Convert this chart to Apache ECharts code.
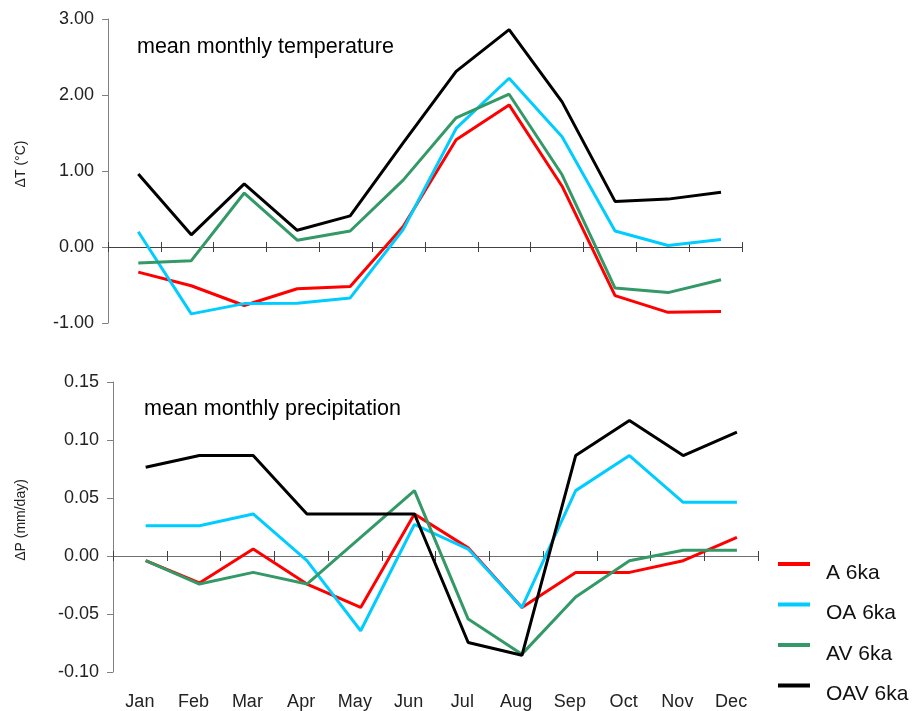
<!DOCTYPE html>
<html>
<head>
<meta charset="utf-8">
<script src="https://cdn.jsdelivr.net/npm/echarts@6/dist/echarts.min.js"></script>
<style>
html,body{margin:0;padding:0;background:#fff;}
#chart{width:913px;height:711px;}
</style>
</head>
<body>
<div id="chart"></div>
<script>
const months = ['Jan','Feb','Mar','Apr','May','Jun','Jul','Aug','Sep','Oct','Nov','Dec'];
const seriesNames = ['A 6ka','OA 6ka','AV 6ka','OAV 6ka'];

// mean monthly temperature change (°C)
const tempA   = [-0.33,-0.51,-0.77,-0.55,-0.52, 0.27, 1.41, 1.87, 0.80,-0.64,-0.86,-0.85];
const tempOA  = [ 0.20,-0.88,-0.745,-0.74,-0.67, 0.23, 1.56, 2.22, 1.45, 0.21, 0.02, 0.10];
const tempAV  = [-0.21,-0.18, 0.71, 0.09, 0.21, 0.88, 1.70, 2.01, 0.95,-0.54,-0.60,-0.43];
const tempOAV = [ 0.96, 0.16, 0.83, 0.22, 0.41, 1.37, 2.31, 2.86, 1.91, 0.60, 0.63, 0.72];

// mean monthly precipitation change (mm/day)
const precA   = [-0.003,-0.022, 0.007,-0.023,-0.043, 0.037, 0.008,-0.043,-0.013,-0.013,-0.003, 0.017];
const precOA  = [ 0.027, 0.027, 0.037,-0.003,-0.063, 0.028, 0.007,-0.043, 0.057, 0.087, 0.047, 0.047];
const precAV  = [-0.003,-0.023,-0.013,-0.023, 0.017, 0.057,-0.053,-0.083,-0.034,-0.003, 0.006, 0.006];
const precOAV = [ 0.077, 0.087, 0.087, 0.037, 0.037, 0.037,-0.073,-0.084, 0.087, 0.117, 0.087, 0.107];

const tempTicks = { min: -1, max: 3, interval: 1 };
const precTicks = { min: -0.1, max: 0.15, interval: 0.05 };

const colors = ['#FF0000', '#00CCFF', '#339966', '#000000'];
const FONT = 'Liberation Sans, Arial, sans-serif';

const chart = echarts.init(document.getElementById('chart'), null, {renderer: 'canvas'});

function line(name, data, xi, yi, ci) {
  return {
    name: name, type: 'line', data: data,
    xAxisIndex: xi, yAxisIndex: yi,
    symbol: 'none', smooth: false,
    lineStyle: { width: 3, color: colors[ci] },
    itemStyle: { color: colors[ci] },
    emphasis: { disabled: true },
    z: 2 + ci
  };
}

function hiddenX(gi) {
  return { type: 'category', gridIndex: gi, data: months, show: false,
    axisLine: { show: false, onZero: false }, axisTick: { show: false }, axisLabel: { show: false } };
}
function hiddenY(gi, t) {
  return { type: 'value', gridIndex: gi, min: t.min, max: t.max, interval: t.interval, show: false,
    axisLine: { show: false }, axisTick: { show: false }, axisLabel: { show: false },
    splitLine: { show: false } };
}

const titleStyle = { fontSize: 21.5, fontWeight: 'normal', color: '#000', fontFamily: FONT };

const option = {
  animation: false,
  backgroundColor: '#fff',
  textStyle: { fontFamily: FONT },
  title: [
    { text: 'mean monthly temperature', left: 137, top: 36.5, padding: 0, textStyle: titleStyle },
    { text: 'mean monthly precipitation', left: 144, top: 398, padding: 0, textStyle: titleStyle }
  ],
  grid: [
    { left: 108, right: 171, top: 19, height: 304 },
    { left: 113, right: 155, top: 382, height: 292 },
    { left: 111.8, right: 165.5, top: 19, height: 304 },
    { left: 118.8, right: 149.2, top: 382, height: 292 }
  ],
  legend: {
    orient: 'vertical', left: 778, top: 562, padding: 0,
    data: seriesNames,
    icon: 'rect', itemWidth: 32, itemHeight: 4, itemGap: 19,
    formatter: '{t|{name}}',
    textStyle: { fontSize: 21, color: '#111', fontFamily: FONT,
      rich: { t: { fontSize: 21, color: '#111', fontFamily: FONT, padding: [18, 0, 0, 11] } } },
    selectedMode: false
  },
  xAxis: [
    { type: 'category', gridIndex: 0, data: months, position: 'bottom',
      axisLine: { onZero: true, lineStyle: { color: '#404040', width: 1 } },
      axisTick: { show: true, length: 5, lineStyle: { color: '#404040' } },
      axisLabel: { show: false }, splitLine: { show: false } },
    { type: 'category', gridIndex: 0, data: months, position: 'bottom',
      axisLine: { show: false, onZero: true, onZeroAxisIndex: 0 },
      axisTick: { show: true, inside: true, length: 5, lineStyle: { color: '#404040' } },
      axisLabel: { show: false }, splitLine: { show: false } },
    { type: 'category', gridIndex: 1, data: months, position: 'bottom',
      axisLine: { onZero: true, lineStyle: { color: '#707070', width: 1 } },
      axisTick: { show: true, length: 5, lineStyle: { color: '#404040' } },
      axisLabel: { show: false }, splitLine: { show: false } },
    { type: 'category', gridIndex: 1, data: months, position: 'bottom',
      axisLine: { show: false, onZero: true, onZeroAxisIndex: 1 },
      axisTick: { show: true, inside: true, length: 5, lineStyle: { color: '#404040' } },
      axisLabel: { show: false }, splitLine: { show: false } },
    { type: 'category', gridIndex: 1, data: months, position: 'bottom',
      axisLine: { show: false, onZero: false },
      axisTick: { show: false },
      axisLabel: { show: true, margin: 21, fontSize: 18, color: '#222', fontFamily: FONT },
      splitLine: { show: false } },
    hiddenX(2),
    hiddenX(3)
  ],
  yAxis: [
    { type: 'value', gridIndex: 0, min: tempTicks.min, max: tempTicks.max, interval: tempTicks.interval,
      axisLine: { show: true, lineStyle: { color: '#808080' } },
      axisTick: { show: true, length: 6, lineStyle: { color: '#808080' } },
      axisLabel: { margin: 14, fontSize: 18, color: '#222', fontFamily: FONT,
        formatter: v => v.toFixed(2) },
      splitLine: { show: false } },
    { type: 'value', gridIndex: 1, min: precTicks.min, max: precTicks.max, interval: precTicks.interval,
      axisLine: { show: true, lineStyle: { color: '#808080' } },
      axisTick: { show: true, length: 6, lineStyle: { color: '#808080' } },
      axisLabel: { margin: 14, fontSize: 18, color: '#222', fontFamily: FONT,
        formatter: v => v.toFixed(2) },
      splitLine: { show: false } },
    hiddenY(2, tempTicks),
    hiddenY(3, precTicks)
  ],
  graphic: [
    { type: 'text', x: 21, y: 164, rotation: Math.PI / 2,
      style: { text: 'ΔT (°C)', fontSize: 14, fill: '#222', fontFamily: FONT,
        align: 'center', verticalAlign: 'middle' } },
    { type: 'text', x: 21, y: 520, rotation: Math.PI / 2,
      style: { text: 'ΔP (mm/day)', fontSize: 14, fill: '#222', fontFamily: FONT,
        align: 'center', verticalAlign: 'middle' } }
  ],
  series: [
    line(seriesNames[0], tempA, 5, 2, 0),
    line(seriesNames[1], tempOA, 5, 2, 1),
    line(seriesNames[2], tempAV, 5, 2, 2),
    line(seriesNames[3], tempOAV, 5, 2, 3),
    line(seriesNames[0], precA, 6, 3, 0),
    line(seriesNames[1], precOA, 6, 3, 1),
    line(seriesNames[2], precAV, 6, 3, 2),
    line(seriesNames[3], precOAV, 6, 3, 3)
  ]
};
chart.setOption(option);
</script>
</body>
</html>
